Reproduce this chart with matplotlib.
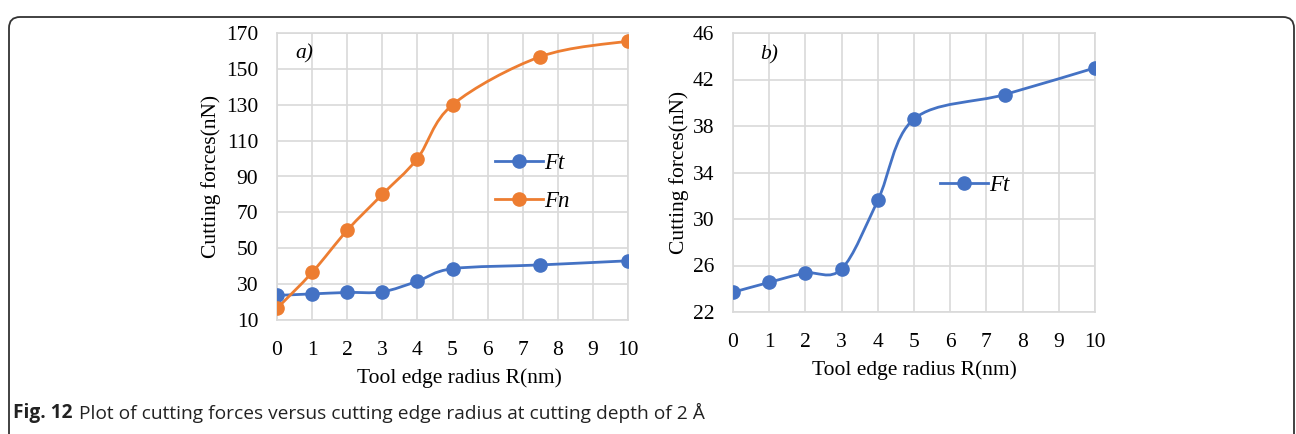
import numpy as np
import matplotlib
matplotlib.use("Agg")
import matplotlib.pyplot as plt
from matplotlib.path import Path
from matplotlib.patches import PathPatch, FancyBboxPatch
from matplotlib.lines import Line2D
from matplotlib.transforms import IdentityTransform

# tool edge radius (nm)
radius = [0, 1, 2, 3, 4, 5, 7.5, 10]
# cutting forces (nN)
ft_force = [23.7, 24.55, 25.35, 25.7, 31.6, 38.6, 40.7, 43.0]
fn_force = [16.5, 36.5, 60.0, 80.0, 100.0, 130.0, 156.8, 165.5]

xticks = list(range(0, 11))
yticks_a = [10, 30, 50, 70, 90, 110, 130, 150, 170]
yticks_b = [22, 26, 30, 34, 38, 42, 46]

BLUE = "#4472C4"
ORANGE = "#ED7D31"
GRID = "#D9D9D9"

plt.rcParams["font.family"] = ["Liberation Serif", "DejaVu Serif"]
W, H = 1296, 434
fig = plt.figure(figsize=(W / 100, H / 100), dpi=100)


def smooth_path(x, y):
    # Excel-like smoothed line: Catmull-Rom turned into cubic Bezier pieces
    p = np.column_stack([x, y]).astype(float)
    n = len(p)
    verts = [p[0]]
    codes = [Path.MOVETO]
    for i in range(n - 1):
        p0 = p[i - 1] if i > 0 else p[i]
        p3 = p[i + 2] if i + 2 < n else p[i + 1]
        c1 = p[i] + (p[i + 1] - p0) / 6.0
        c2 = p[i + 1] - (p3 - p[i]) / 6.0
        verts += [c1, c2, p[i + 1]]
        codes += [Path.CURVE4] * 3
    return Path(verts, codes)


def style_axes(ax, yticks):
    ax.set_xlim(0, 10)
    ax.set_ylim(yticks[0], yticks[-1])
    ax.set_xticks(xticks)
    ax.set_yticks(yticks)
    ax.grid(True, color=GRID, linewidth=1.2)
    ax.set_axisbelow(True)
    for s in ax.spines.values():
        s.set_color(GRID)
        s.set_linewidth(1.2)
    ax.tick_params(length=0, labelsize=15.5, pad=13.5, colors="black")
    ax.tick_params(axis="x", pad=15)


def draw_series(ax, x, y, color):
    ax.add_patch(PathPatch(smooth_path(x, y), fill=False, edgecolor=color,
                           linewidth=2.0, zorder=3))
    ax.plot(x, y, "o", color=color, markersize=9.5, linestyle="none", zorder=4)


def px_axes(left, right, top, bottom):
    return fig.add_axes([left / W, (H - bottom) / H, (right - left) / W,
                         (bottom - top) / H])


# panel a
ax1 = px_axes(277, 628, 33, 320)
style_axes(ax1, yticks_a)
draw_series(ax1, radius, ft_force, BLUE)
draw_series(ax1, radius, fn_force, ORANGE)
ax1.set_xlabel("Tool edge radius R(nm)", fontsize=15.5)
ax1.set_ylabel("Cutting forces(nN)", fontsize=15.5)
ax1.xaxis.set_label_coords(0.52, -0.168)
ax1.yaxis.set_label_coords(-0.16, 0.5)
ax1.text(0.051, 0.927, "a)", transform=ax1.transAxes, fontsize=15.5,
         style="italic", va="center")
h1 = [Line2D([], [], color=BLUE, lw=2.0, marker="o", markersize=9.5),
      Line2D([], [], color=ORANGE, lw=2.0, marker="o", markersize=9.5)]
ax1.legend(h1, ["Ft", "Fn"], loc="center left", bbox_to_anchor=(0.621, 0.478),
           frameon=False, borderpad=0, borderaxespad=0, handlelength=2.1,
           handletextpad=0.05, labelspacing=0.75,
           prop={"size": 16.5, "style": "italic"})

# panel b
ax2 = px_axes(733, 1095, 33, 312)
style_axes(ax2, yticks_b)
draw_series(ax2, radius, ft_force, BLUE)
ax2.set_xlabel("Tool edge radius R(nm)", fontsize=15.5)
ax2.set_ylabel("Cutting forces(nN)", fontsize=15.5)
ax2.xaxis.set_label_coords(0.5, -0.172)
ax2.yaxis.set_label_coords(-0.121, 0.5)
ax2.text(0.075, 0.921, "b)", transform=ax2.transAxes, fontsize=15.5,
         style="italic", va="center")
h2 = [Line2D([], [], color=BLUE, lw=2.0, marker="o", markersize=9.5)]
ax2.legend(h2, ["Ft"], loc="center left", bbox_to_anchor=(0.572, 0.453),
           frameon=False, borderpad=0, borderaxespad=0, handlelength=2.1,
           handletextpad=0.05, prop={"size": 16.5, "style": "italic"})

# frame and caption
fig.patches.append(FancyBboxPatch((9, -20), 1285, H - 9 + 20 - 8,
                                  boxstyle="round,pad=0,rounding_size=11",
                                  transform=IdentityTransform(), fill=False,
                                  edgecolor="#333333", linewidth=1.3))
cap_y = (H - 413) / H
fig.text(13 / W, cap_y, "Fig. 12", fontsize=13.75, family="Open Sans",
         weight="bold", va="center", color="#222222")
fig.text(79 / W, cap_y,
         "Plot of cutting forces versus cutting edge radius at cutting depth of 2 Å",
         fontsize=13.75, family="Open Sans", va="center", color="#222222")

fig.savefig("out.png", dpi=100)
